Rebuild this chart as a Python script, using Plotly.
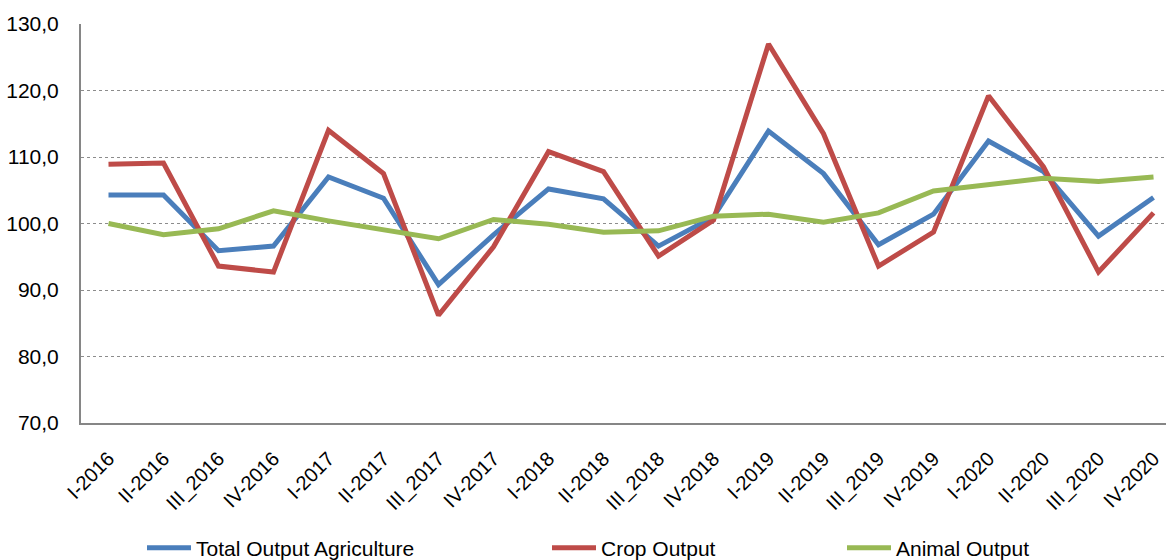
import plotly.graph_objects as go

categories = ["I-2016", "II-2016", "III_2016", "IV-2016",
              "I-2017", "II-2017", "III_2017", "IV-2017",
              "I-2018", "II-2018", "III_2018", "IV-2018",
              "I-2019", "II-2019", "III_2019", "IV-2019",
              "I-2020", "II-2020", "III_2020", "IV-2020"]

total_output = [104.3, 104.3, 95.9, 96.6, 107.0, 103.8, 90.8, 98.3,
                105.2, 103.7, 96.6, 101.0, 113.9, 107.5, 96.8, 101.4,
                112.4, 107.8, 98.1, 103.9]
crop_output = [108.9, 109.1, 93.6, 92.7, 114.0, 107.5, 86.2, 96.5,
               110.8, 107.8, 95.1, 100.5, 127.0, 113.5, 93.6, 98.7,
               119.2, 108.5, 92.7, 101.6]
animal_output = [100.0, 98.3, 99.2, 101.9, 100.4, 99.1, 97.7, 100.6,
                 99.9, 98.7, 98.9, 101.1, 101.4, 100.2, 101.6, 104.9,
                 105.9, 106.8, 106.3, 107.0]

series_names = ["Total Output Agriculture", "Crop Output", "Animal Output"]
series_values = [total_output, crop_output, animal_output]
series_colors = ["#4a7ebb", "#be4b48", "#98b954"]
legend_ids = ["legend", "legend2", "legend3"]
legend_x_px = [142, 547, 842]

y_ticks = [70, 80, 90, 100, 110, 120, 130]
y_tick_text = [f"{v:.1f}".replace(".", ",") for v in y_ticks]

W, H = 1166, 560

fig = go.Figure()
for name, vals, color, lg in zip(series_names, series_values, series_colors, legend_ids):
    fig.add_trace(go.Scatter(
        x=list(range(len(categories))), y=vals, name=name, mode="lines",
        line=dict(color=color, width=5), legend=lg,
    ))

legend_common = dict(
    orientation="h", xref="container", yref="container",
    y=12 / H, xanchor="left", yanchor="middle",
    font=dict(size=21), itemwidth=44, bgcolor="rgba(0,0,0,0)",
)
layout_legends = {}
for lg, px in zip(legend_ids, legend_x_px):
    layout_legends[lg] = dict(legend_common, x=px / W)

fig.update_layout(
    width=W, height=H,
    margin=dict(l=81, r=0, t=24, b=137),
    paper_bgcolor="white", plot_bgcolor="white",
    font=dict(family="Liberation Sans, Arial, sans-serif", size=20, color="black"),
    showlegend=True,
    **layout_legends,
)
fig.update_xaxes(
    range=[-0.5, 19.227],
    tickmode="array", tickvals=list(range(len(categories))), ticktext=categories,
    tickangle=-45, showgrid=False, zeroline=False,
    showline=True, linecolor="#868686", linewidth=2,
    ticks="", tickfont=dict(size=20), ticklabelstandoff=14,
)
fig.update_yaxes(
    range=[70, 130], tickmode="array", tickvals=y_ticks, ticktext=y_tick_text,
    showgrid=True, gridcolor="#8c8c8c", griddash="dot", gridwidth=1,
    zeroline=False, showline=True, linecolor="#868686", linewidth=2,
    ticks="", ticklabelstandoff=16, tickfont=dict(size=21),
)

fig.write_html("out.html")
